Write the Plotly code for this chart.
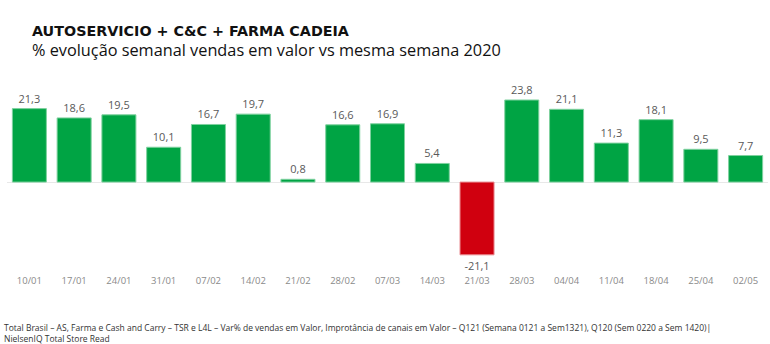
import plotly.graph_objects as go

weeks = ["10/01", "17/01", "24/01", "31/01", "07/02", "14/02", "21/02", "28/02", "07/03",
         "14/03", "21/03", "28/03", "04/04", "11/04", "18/04", "25/04", "02/05"]
growth = [21.3, 18.6, 19.5, 10.1, 16.7, 19.7, 0.8, 16.6, 16.9,
          5.4, -21.1, 23.8, 21.1, 11.3, 18.1, 9.5, 7.7]

GREEN = "#00A444"
RED = "#D0000F"

bar_colors = [GREEN if v >= 0 else RED for v in growth]
edge_colors = ["#7FD19F" if v >= 0 else "#E98A90" for v in growth]
labels = [f"{v:.1f}".replace(".", ",") for v in growth]

W, H = 770.0, 344.0
ML, MR, MT, MB = 7, 2, 80, 74

fig = go.Figure(go.Bar(
    x=weeks,
    y=growth,
    marker=dict(color=bar_colors, line=dict(color=edge_colors, width=1)),
    text=labels,
    textposition="outside",
    textfont=dict(family="Open Sans", size=11, color="#595959"),
    cliponaxis=False,
    width=0.76,
))


def px(pix):
    return (pix - ML) / (W - ML - MR)


def py(pix):
    return (H - MB - pix) / (H - MT - MB)


fig.update_layout(
    width=W,
    height=H,
    margin=dict(l=ML, r=MR, t=MT, b=MB),
    paper_bgcolor="white",
    plot_bgcolor="white",
    showlegend=False,
    font=dict(family="Open Sans"),
    xaxis=dict(
        showgrid=False, showline=False, ticks="", ticklabelstandoff=3,
        tickfont=dict(family="Open Sans", size=9.5, color="#8a8a8a"),
    ),
    yaxis=dict(
        range=[-25.5, 29.6], showgrid=False, showticklabels=False,
        zeroline=True, zerolinecolor="#e8e8e8", zerolinewidth=1,
    ),
    annotations=[
        dict(text="<b>AUTOSERVICIO + C&C + FARMA CADEIA</b>", xref="paper", yref="paper",
             x=px(30), y=py(31), xanchor="left", yanchor="middle", showarrow=False,
             font=dict(family="DejaVu Sans", size=14.3, color="#111111")),
        dict(text="% evolução semanal vendas em valor vs mesma semana 2020", xref="paper", yref="paper",
             x=px(30), y=py(50), xanchor="left", yanchor="middle", showarrow=False,
             font=dict(family="Open Sans", size=16.3, color="#111111")),
        dict(text="Total Brasil – AS, Farma e Cash and Carry – TSR e L4L – Var% de vendas em Valor, "
                  "Improtância de canais em Valor – Q121 (Semana 0121 a Sem1321), Q120 (Sem 0220 a Sem 1420)|"
                  "<br>NielsenIQ Total Store Read",
             xref="paper", yref="paper", x=px(2), y=py(333), xanchor="left", yanchor="middle",
             align="left", showarrow=False,
             font=dict(family="Open Sans", size=8.5, color="#333333")),
    ],
)

fig.write_html("out.html")
